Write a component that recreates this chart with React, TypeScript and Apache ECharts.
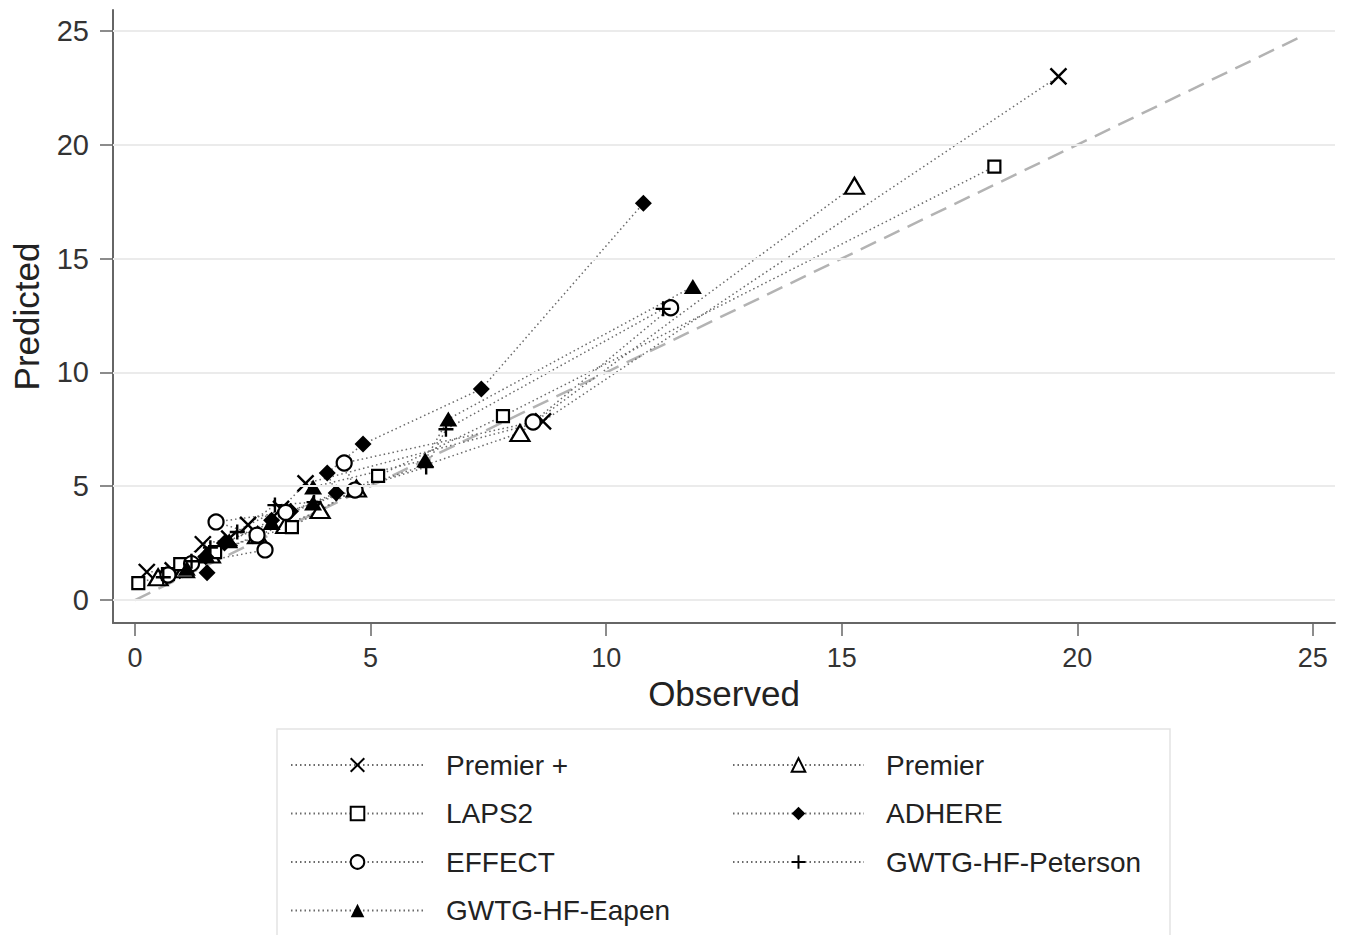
import React, { useEffect, useRef } from "react";
import * as echarts from "echarts";

const xTicks = [0, 5, 10, 15, 20, 25];
const yTicks = [0, 5, 10, 15, 20, 25];
const refLine = [[0, 0], [24.83, 24.83]];

const premierPlus = [[0.25, 1.23], [0.8, 1.3], [1.44, 2.45], [2.0, 2.7], [2.4, 3.3], [3.1, 4.0], [3.62, 5.12], [8.66, 7.85], [19.6, 23.0]];
const premier = [[0.49, 1.0], [1.05, 1.35], [1.6, 2.0], [2.6, 2.85], [3.2, 3.3], [3.93, 3.95], [4.7, 4.9], [8.17, 7.34], [15.27, 18.2]];
const laps2 = [[0.07, 0.74], [0.7, 1.14], [0.96, 1.58], [1.7, 2.1], [2.6, 2.8], [3.33, 3.2], [5.16, 5.45], [7.81, 8.08], [18.24, 19.04]];
const adhere = [[1.53, 1.2], [1.5, 1.9], [1.9, 2.5], [2.9, 3.5], [3.3, 3.9], [4.27, 4.7], [4.08, 5.58], [4.84, 6.85], [7.35, 9.27], [10.79, 17.43]];
const effect = [[0.7, 1.1], [1.2, 1.6], [2.76, 2.2], [2.59, 2.85], [1.72, 3.43], [3.2, 3.85], [4.67, 4.83], [4.44, 6.02], [8.45, 7.82], [11.37, 12.84]];
const peterson = [[0.6, 1.0], [1.2, 1.7], [1.6, 2.3], [2.17, 2.99], [2.97, 4.17], [3.8, 4.3], [6.18, 5.84], [6.6, 7.5], [11.21, 12.79]];
const eapen = [[1.1, 1.4], [1.5, 2.0], [2.0, 2.6], [2.9, 3.4], [3.78, 4.26], [3.78, 4.97], [6.16, 6.15], [6.65, 7.95], [11.84, 13.77]];

const leftNames = ["Premier +", "LAPS2", "EFFECT", "GWTG-HF-Eapen"];
const rightNames = ["Premier", "ADHERE", "GWTG-HF-Peterson"];

const FONT = "'Liberation Sans', Arial, Helvetica, sans-serif";
const CROSS = "path://M0,0L10,10M10,0L0,10";
const PLUS = "path://M5,0L5,10M0,5L10,5";

const hollow = { color: "#fff", borderColor: "#000", borderWidth: 2.2 };
const solid = { color: "#000", borderColor: "#000", borderWidth: 0 };
const stroke = { color: "#000", borderColor: "#000", borderWidth: 2.4 };

function mkSeries(name: string, data: number[][], symbol: string, size: number | number[], itemStyle: any) {
  return {
    name,
    type: "line",
    data,
    symbol,
    symbolSize: size,
    showSymbol: true,
    z: 3,
    lineStyle: { color: "#6a6a6a", width: 1.5, type: [1.5, 3] },
    itemStyle,
    emphasis: { disabled: true },
  };
}

export default function App() {
  const ref = useRef<HTMLDivElement>(null);
  useEffect(() => {
    if (!ref.current) return;
    const chart = echarts.init(ref.current, undefined, { renderer: "svg" });
    const legendBase = {
      orient: "vertical",
      top: 751,
      padding: 0,
      height: 184,
      itemHeight: 17,
      itemGap: 20.5,
      selectedMode: false,
      textStyle: { fontSize: 28, color: "#222", fontFamily: FONT, padding: [0, 0, 0, 17] },
    };
    chart.setOption({
      animation: false,
      textStyle: { fontFamily: FONT },
      grid: { left: 113, right: 11, top: 10, bottom: 312, containLabel: false },
      xAxis: {
        type: "value",
        min: -0.467,
        max: 25.47,
        name: "Observed",
        nameLocation: "middle",
        nameGap: 50,
        nameTextStyle: { fontSize: 35, color: "#222", fontFamily: FONT },
        axisLine: { show: true, onZero: false, lineStyle: { color: "#666", width: 2 } },
        axisTick: { show: true, length: 13, customValues: xTicks, lineStyle: { color: "#666", width: 1.5 } },
        axisLabel: { customValues: xTicks, fontSize: 27, color: "#333", margin: 21, fontFamily: FONT },
        splitLine: { show: false },
      },
      yAxis: {
        type: "value",
        min: -1.01,
        max: 25.92,
        name: "Predicted",
        nameLocation: "middle",
        nameGap: 69,
        nameTextStyle: { fontSize: 35, color: "#222", fontFamily: FONT },
        axisLine: { show: true, onZero: false, lineStyle: { color: "#666", width: 2 } },
        axisTick: { show: true, length: 13, customValues: yTicks, lineStyle: { color: "#666", width: 1.5 } },
        axisLabel: { customValues: yTicks, fontSize: 29, color: "#333", margin: 24, fontFamily: FONT },
        splitLine: { show: false },
      },
      legend: [
        { ...legendBase, left: 290, itemWidth: 133, data: leftNames },
        { ...legendBase, left: 732, itemWidth: 131, data: rightNames },
      ],
      graphic: [
        {
          type: "rect",
          silent: true,
          shape: { x: 277, y: 729, width: 893, height: 240 },
          style: { fill: "none", stroke: "#e3e3e3", lineWidth: 1.5 },
        },
      ],
      series: [
        {
          name: "grid",
          type: "line",
          data: [],
          z: 1,
          silent: true,
          markLine: {
            silent: true,
            symbol: ["none", "none"],
            label: { show: false },
            lineStyle: { color: "#ebebeb", width: 2, type: "solid" },
            emphasis: { disabled: true },
            data: yTicks.map((v) => ({ yAxis: v })),
          },
        },
        {
          name: "ref",
          type: "line",
          data: refLine,
          symbol: "none",
          z: 2,
          silent: true,
          lineStyle: { color: "#b3b3b3", width: 2.5, type: [17, 9] },
        },
        mkSeries("Premier +", premierPlus, CROSS, 16, stroke),
        mkSeries("Premier", premier, "triangle", [19, 16], hollow),
        mkSeries("LAPS2", laps2, "rect", 12, hollow),
        mkSeries("ADHERE", adhere, "diamond", 17, solid),
        mkSeries("EFFECT", effect, "circle", 15, hollow),
        mkSeries("GWTG-HF-Peterson", peterson, PLUS, 15, stroke),
        mkSeries("GWTG-HF-Eapen", eapen, "triangle", [18, 15], solid),
      ],
    });
    return () => chart.dispose();
  }, []);
  return <div ref={ref} style={{ position: "fixed", left: 0, top: 0, width: 1346, height: 935, background: "#fff" }} />;
}
